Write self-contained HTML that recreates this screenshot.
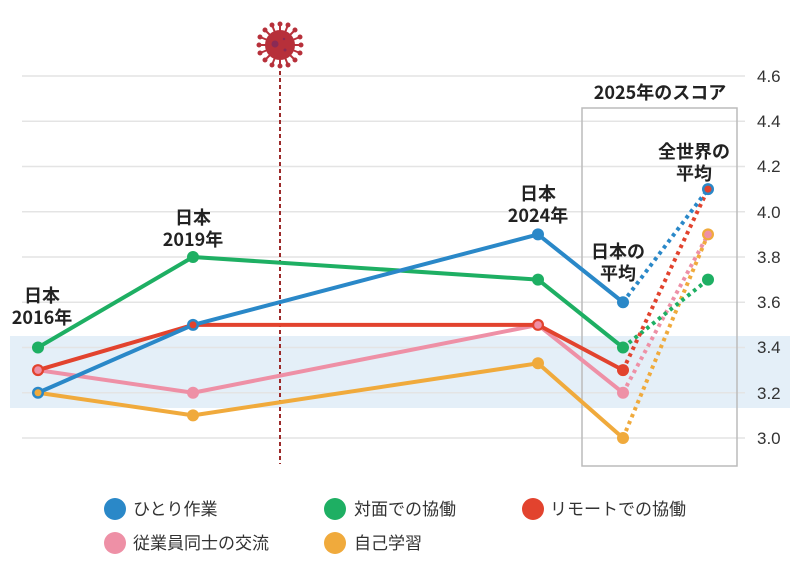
<!DOCTYPE html>
<html><head><meta charset="utf-8"><style>
html,body{margin:0;padding:0;background:#fff;}
svg{display:block;}
text{font-family:"Liberation Sans","Noto Sans CJK JP",sans-serif;}
.ax{font-family:"Noto Sans CJK JP","Liberation Sans",sans-serif;font-size:17px;fill:#333;}
.an{font-family:"Noto Sans CJK JP","Liberation Sans",sans-serif;font-size:18px;font-weight:bold;fill:#222;text-anchor:middle;}
.lg{font-family:"Noto Sans CJK JP","Liberation Sans",sans-serif;font-size:17px;fill:#333;}
</style></head><body>
<svg width="800" height="580" viewBox="0 0 800 580" xmlns="http://www.w3.org/2000/svg">
<rect x="10" y="336" width="780" height="72" fill="#e4eff8"/>
<g stroke="#e4e4e4" stroke-width="1.5">
<line x1="22" y1="76" x2="745" y2="76"/>
<line x1="22" y1="121.25" x2="745" y2="121.25"/>
<line x1="22" y1="166.5" x2="745" y2="166.5"/>
<line x1="22" y1="211.75" x2="745" y2="211.75"/>
<line x1="22" y1="257" x2="745" y2="257"/>
<line x1="22" y1="302.25" x2="745" y2="302.25"/>
<line x1="22" y1="347.5" x2="745" y2="347.5"/>
<line x1="22" y1="392.75" x2="745" y2="392.75"/>
<line x1="22" y1="438" x2="745" y2="438"/>
</g>
<g class="ax">
<text x="757" y="82">4.6</text>
<text x="757" y="127">4.4</text>
<text x="757" y="172">4.2</text>
<text x="757" y="218">4.0</text>
<text x="757" y="263">3.8</text>
<text x="757" y="308">3.6</text>
<text x="757" y="353">3.4</text>
<text x="757" y="399">3.2</text>
<text x="757" y="444">3.0</text>
</g>
<rect x="582" y="108" width="155" height="358" fill="none" stroke="#bbb" stroke-width="1.5"/>
<line x1="280" y1="64" x2="280" y2="464" stroke="#9b2a2a" stroke-width="2" stroke-dasharray="4 3"/>
<!-- virus -->
<g fill="#b7303a" stroke="#b7303a">
<g stroke-width="2">
<line x1="280" y1="45" x2="280" y2="24"/><line x1="280" y1="45" x2="280" y2="66"/>
<line x1="280" y1="45" x2="259" y2="45"/><line x1="280" y1="45" x2="301" y2="45"/>
<line x1="280" y1="45" x2="265" y2="30"/><line x1="280" y1="45" x2="295" y2="60"/>
<line x1="280" y1="45" x2="295" y2="30"/><line x1="280" y1="45" x2="265" y2="60"/>
<line x1="280" y1="45" x2="272" y2="25"/><line x1="280" y1="45" x2="288" y2="65"/>
<line x1="280" y1="45" x2="288" y2="25"/><line x1="280" y1="45" x2="272" y2="65"/>
<line x1="280" y1="45" x2="260" y2="37"/><line x1="280" y1="45" x2="300" y2="53"/>
<line x1="280" y1="45" x2="260" y2="53"/><line x1="280" y1="45" x2="300" y2="37"/>
</g>
<circle cx="280" cy="24" r="2"/><circle cx="280" cy="66" r="2"/><circle cx="259" cy="45" r="2"/><circle cx="301" cy="45" r="2"/>
<circle cx="265" cy="30" r="2"/><circle cx="295" cy="60" r="2"/><circle cx="295" cy="30" r="2"/><circle cx="265" cy="60" r="2"/>
<circle cx="272" cy="25" r="2"/><circle cx="288" cy="65" r="2"/><circle cx="288" cy="25" r="2"/><circle cx="272" cy="65" r="2"/>
<circle cx="260" cy="37" r="2"/><circle cx="300" cy="53" r="2"/><circle cx="260" cy="53" r="2"/><circle cx="300" cy="37" r="2"/>
<circle cx="280" cy="45" r="15" stroke="none"/>
</g>
<circle cx="275" cy="44" r="3.5" fill="#8a2a55"/>
<circle cx="285" cy="50" r="1.5" fill="#8a2a55"/>
<circle cx="284" cy="39" r="1.2" fill="#8a2a55"/>
<!-- dotted lines -->
<g fill="none" stroke-width="4" stroke-dasharray="3.5 4">
<line x1="623" y1="438" x2="708" y2="234.4" stroke="#f0aa3c"/>
<line x1="623" y1="392.75" x2="708" y2="234.4" stroke="#ee90a6"/>
<line x1="623" y1="347.5" x2="708" y2="279.6" stroke="#1eaf63"/>
<line x1="623" y1="370.1" x2="708" y2="189.1" stroke="#e2432e"/>
<line x1="623" y1="302.25" x2="708" y2="189.1" stroke="#2a88c8"/>
</g>
<!-- solid lines -->
<g fill="none" stroke-width="4" stroke-linejoin="round">
<polyline points="38,392.75 193,415.4 538,363.3 623,438" stroke="#f0aa3c"/>
<polyline points="38,370.1 193,392.75 538,324.9 623,392.75" stroke="#ee90a6"/>
<polyline points="38,370.1 193,324.9 538,324.9 623,370.1" stroke="#e2432e"/>
<polyline points="38,347.5 193,257 538,279.6 623,347.5" stroke="#1eaf63"/>
<polyline points="38,392.75 193,324.9 538,234.4 623,302.25" stroke="#2a88c8"/>
</g>
<!-- markers -->
<g>
<circle cx="193" cy="415.4" r="6" fill="#f0aa3c"/>
<circle cx="538" cy="363.3" r="6" fill="#f0aa3c"/>
<circle cx="623" cy="438" r="6" fill="#f0aa3c"/>
<circle cx="193" cy="392.75" r="6" fill="#ee90a6"/>
<circle cx="623" cy="392.75" r="6" fill="#ee90a6"/>
<circle cx="623" cy="370.1" r="6" fill="#e2432e"/>
<circle cx="38" cy="347.5" r="6" fill="#1eaf63"/>
<circle cx="193" cy="257" r="6" fill="#1eaf63"/>
<circle cx="538" cy="279.6" r="6" fill="#1eaf63"/>
<circle cx="623" cy="347.5" r="6" fill="#1eaf63"/>
<circle cx="708" cy="279.6" r="6" fill="#1eaf63"/>
<circle cx="538" cy="234.4" r="6" fill="#2a88c8"/>
<circle cx="623" cy="302.25" r="6" fill="#2a88c8"/>
<circle cx="38" cy="370.1" r="6" fill="#e2432e"/><circle cx="38" cy="370.1" r="3.8" fill="#ee90a6"/>
<circle cx="38" cy="392.75" r="6" fill="#2a88c8"/><circle cx="38" cy="392.75" r="3.5" fill="#f0aa3c"/>
<circle cx="193" cy="324.9" r="6" fill="#2a88c8"/><circle cx="193" cy="324.9" r="3.5" fill="#e2432e"/>
<circle cx="538" cy="324.9" r="6" fill="#e2432e"/><circle cx="538" cy="324.9" r="3.8" fill="#ee90a6"/>
<circle cx="708" cy="189.1" r="6" fill="#2a88c8"/><circle cx="708" cy="189.1" r="3.5" fill="#e2432e"/>
<circle cx="708" cy="234.4" r="6" fill="#f0aa3c"/><circle cx="708" cy="234.4" r="3.8" fill="#ee90a6"/>
</g>
<!-- annotations -->
<text class="an" x="42" y="302">日本</text>
<text class="an" x="42" y="324">2016年</text>
<text class="an" x="193" y="224">日本</text>
<text class="an" x="193" y="246">2019年</text>
<text class="an" x="538" y="200">日本</text>
<text class="an" x="538" y="222">2024年</text>
<text class="an" x="618" y="258">日本の</text>
<text class="an" x="618" y="280">平均</text>
<text class="an" x="694" y="158">全世界の</text>
<text class="an" x="694" y="180">平均</text>
<text class="an" x="660" y="99">2025年のスコア</text>
<!-- legend -->
<circle cx="115" cy="509" r="11" fill="#2a88c8"/>
<text class="lg" x="133" y="515">ひとり作業</text>
<circle cx="335" cy="509" r="11" fill="#1eaf63"/>
<text class="lg" x="354" y="515">対面での協働</text>
<circle cx="533" cy="509" r="11" fill="#e2432e"/>
<text class="lg" x="550" y="515">リモートでの協働</text>
<circle cx="115" cy="543" r="11" fill="#ee90a6"/>
<text class="lg" x="133" y="549">従業員同士の交流</text>
<circle cx="335" cy="543" r="11" fill="#f0aa3c"/>
<text class="lg" x="354" y="549">自己学習</text>
</svg>
</body></html>
